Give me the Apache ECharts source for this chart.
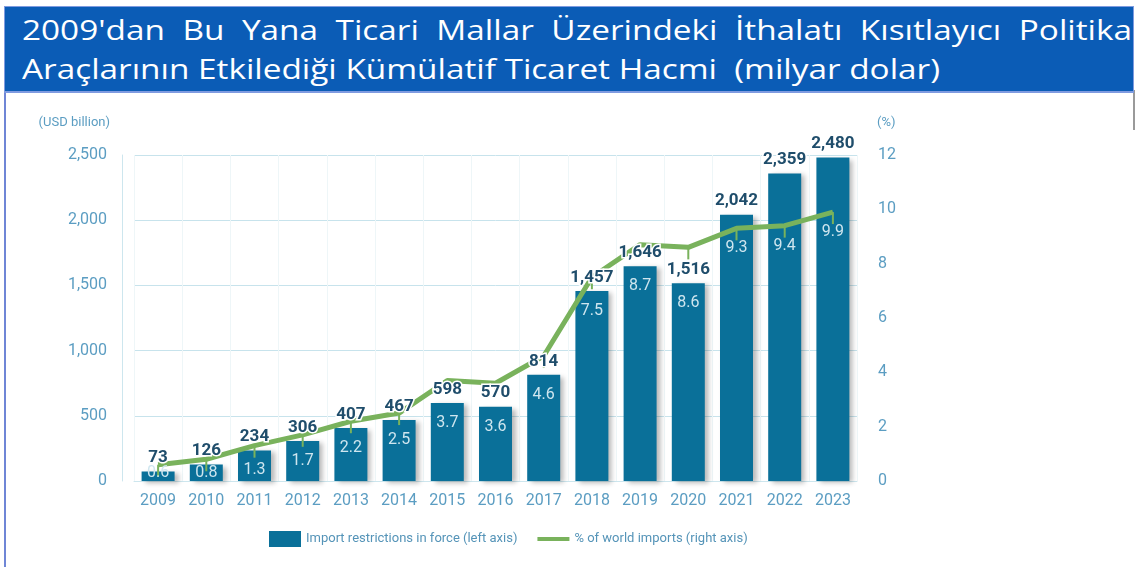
<!DOCTYPE html>
<html>
<head>
<meta charset="utf-8">
<script src="https://cdn.jsdelivr.net/npm/echarts@6/dist/echarts.min.js"></script>
<style>
  html, body { margin: 0; padding: 0; background: #fff; }
  #chart { position: absolute; left: 0; top: 0; width: 1136px; height: 567px; }
  .frame { position: absolute; left: 4px; top: 92px; width: 2px; height: 475px; background: #6f86d6; }
  .edge { position: absolute; left: 1133px; top: 90px; width: 2px; height: 40px; background: #9a9a9a; }
  .banner {
    position: absolute; left: 4px; top: 6px; width: 1130px; height: 87px;
    background: #0b5cb6; box-sizing: border-box; overflow: hidden;
    border: 1px solid #7f9be0; border-bottom-width: 2px;
  }
  .title {
    position: absolute; left: 17px; top: 3px; transform-origin: 0 0;
    color: #fff; font-family: "Open Sans", "Noto Sans", sans-serif;
    font-size: 27px; line-height: 39px; white-space: nowrap;
  }
  .title .l1 { text-align: justify; text-align-last: justify; white-space: normal; }
</style>
</head>
<body>
<div id="chart"></div>
<div class="frame"></div>
<div class="edge"></div>
<div class="banner">
  <div class="title" id="title">
    <div class="l1">2009'dan Bu Yana Ticari Mallar Üzerindeki İthalatı Kısıtlayıcı Politika</div>
    <div><span id="l2">Araçlarının Etkilediği Kümülatif Ticaret Hacmi&nbsp; (milyar dolar)</span></div>
  </div>
</div>
<script>
// the original title font is much wider, stretch the text to the same line length
const title = document.getElementById('title')
const sx = 918 / document.getElementById('l2').getBoundingClientRect().width
title.style.transform = 'scaleX(' + sx.toFixed(4) + ')'
title.style.width = (1110 / sx).toFixed(1) + 'px'

const years = ['2009', '2010', '2011', '2012', '2013', '2014', '2015', '2016', '2017', '2018', '2019', '2020', '2021', '2022', '2023']
const restrictions = [73, 126, 234, 306, 407, 467, 598, 570, 814, 1457, 1646, 1516, 2042, 2359, 2480]
const worldShare = [0.6, 0.8, 1.3, 1.7, 2.2, 2.5, 3.7, 3.6, 4.6, 7.5, 8.7, 8.6, 9.3, 9.4, 9.9]

const labelColor = '#5b9dc2'
const barName = 'Import restrictions in force (left axis)'
const lineName = '% of world imports (right axis)'
const chart = echarts.init(document.getElementById('chart'))

// keep the % labels inside the bars, below the line
function pctLabelLayout (params) {
  const i = params.dataIndex
  const pointY = chart.convertToPixel({ yAxisIndex: 1 }, worldShare[i])
  const barTop = chart.convertToPixel({ yAxisIndex: 0 }, restrictions[i])
  const baseY = chart.convertToPixel({ yAxisIndex: 0 }, 0)
  const want = Math.min(Math.max(pointY + 20, barTop + 20), baseY - 8)
  const cur = params.labelRect.y + params.labelRect.height / 2
  return { dy: want - cur }
}

chart.setOption({
  animation: false,
  textStyle: { fontFamily: 'Roboto, "DejaVu Sans", sans-serif' },
  grid: { left: 134, right: 279, top: 155, bottom: 86 },
  legend: {
    bottom: 15,
    left: 264,
    itemGap: 20,
    itemWidth: 32,
    itemHeight: 16,
    textStyle: { color: '#5594b8', fontSize: 13 },
    data: [
      { name: barName, icon: 'rect' },
      { name: lineName, icon: 'path://M0,0h32v4h-32z' }
    ]
  },
  xAxis: {
    type: 'category',
    data: years,
    axisTick: { show: false },
    axisLine: { lineStyle: { color: '#cde6ee' } },
    axisLabel: { color: labelColor, fontSize: 16, margin: 12 },
    splitLine: { show: true, lineStyle: { color: '#eef6f8' } }
  },
  yAxis: [
    {
      type: 'value',
      min: 0,
      max: 2500,
      interval: 500,
      offset: 12,
      name: '(USD billion)',
      nameLocation: 'end',
      nameGap: 26,
      nameTextStyle: { color: labelColor, fontSize: 13, align: 'right', padding: [0, 12, 0, 0] },
      axisLine: { show: true, lineStyle: { color: '#cde6ee' } },
      axisTick: { show: false },
      axisLabel: {
        color: labelColor, fontSize: 16, margin: 15,
        formatter: v => v.toLocaleString('en-US')
      },
      splitLine: { lineStyle: { color: '#c7e3ec' } }
    },
    {
      type: 'value',
      min: 0,
      max: 12,
      interval: 2,
      name: '(%)',
      nameLocation: 'end',
      nameGap: 26,
      nameTextStyle: { color: labelColor, fontSize: 13, align: 'left', padding: [0, 0, 0, 20] },
      axisLine: { show: false },
      axisTick: { show: false },
      axisLabel: { color: labelColor, fontSize: 16, margin: 21 },
      splitLine: { show: false }
    }
  ],
  series: [
    {
      name: barName,
      type: 'bar',
      data: restrictions,
      barWidth: 33,
      itemStyle: {
        color: '#0a7099',
        shadowColor: 'rgba(0,0,0,0.28)',
        shadowBlur: 5,
        shadowOffsetX: 4,
        shadowOffsetY: 2
      },
      z: 2
    },
    {
      name: lineName,
      type: 'line',
      yAxisIndex: 1,
      data: worldShare,
      lineStyle: { color: '#79b25c', width: 5 },
      itemStyle: { color: '#79b25c' },
      symbol: 'rect',
      symbolSize: [2, 12],
      symbolOffset: [0, 6],
      label: {
        show: true,
        position: 'bottom',
        distance: 8,
        color: '#cfe6ef',
        fontSize: 16
      },
      labelLayout: pctLabelLayout,
      z: 3
    },
    {
      // value labels drawn above the line
      name: 'labels',
      type: 'bar',
      data: restrictions,
      barWidth: 33,
      barGap: '-100%',
      itemStyle: { color: 'rgba(0,0,0,0)' },
      label: {
        show: true,
        position: 'top',
        distance: 5,
        color: '#1f4d6b',
        fontWeight: 'bold',
        fontSize: 17,
        textBorderColor: '#fff',
        textBorderWidth: 3,
        formatter: p => p.value.toLocaleString('en-US')
      },
      silent: true,
      z: 4
    }
  ]
})
</script>
</body>
</html>
